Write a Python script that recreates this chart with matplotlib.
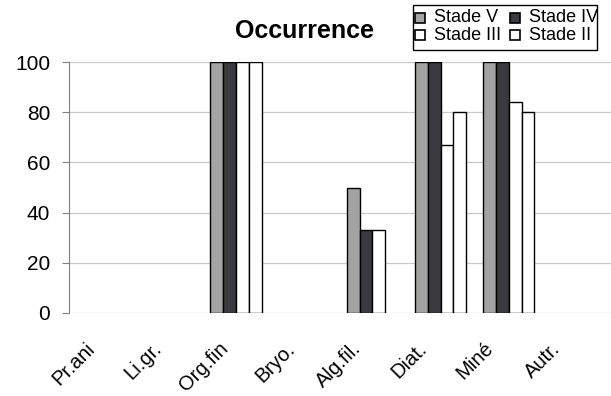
import matplotlib
matplotlib.use("Agg")
import matplotlib.pyplot as plt
from matplotlib.patches import Rectangle
from matplotlib.transforms import ScaledTranslation
import numpy as np

plt.rcParams['font.family'] = ['Liberation Sans', 'DejaVu Sans']

categories = ['Pr.ani', 'Li.gr.', 'Org.fin', 'Bryo.', 'Alg.fil.', 'Diat.', 'Miné', 'Autr.']
series_names = ['Stade V', 'Stade IV', 'Stade III', 'Stade II']
stade_v = [0, 0, 100, 0, 50, 100, 100, 0]
stade_iv = [0, 0, 100, 0, 33, 100, 100, 0]
stade_iii = [0, 0, 100, 0, 33, 67, 84, 0]
stade_ii = [0, 0, 100, 0, 0, 80, 80, 0]
y_ticks = [0, 20, 40, 60, 80, 100]

colors = ['#a3a3a3', '#3a3a40', 'white', 'white']

W, H = 611, 396
fig = plt.figure(figsize=(W / 100, H / 100), dpi=100)
ax = fig.add_axes([69 / W, 1 - 313 / H, (W - 69) / W, (313 - 62) / H])

def px(x, y):
    return x / W, 1 - y / H

x = np.arange(len(categories))
w = 0.1875
for i, (vals, c, name) in enumerate(zip([stade_v, stade_iv, stade_iii, stade_ii], colors, series_names)):
    v = np.array(vals, dtype=float)
    v = np.where(v > 0, v, np.nan)
    ax.bar(x + (i - 1.5) * w, v, width=w, color=c, edgecolor='black', linewidth=1.0, label=name, zorder=3)

ax.set_xlim(-0.45, len(categories) - 0.5)
ax.set_ylim(0, 100)
ax.set_yticks(y_ticks)
ax.tick_params(axis='y', labelsize=15, length=5, color='#808080', pad=8.6)
ax.tick_params(axis='x', length=0, labelsize=14.5, pad=0)
ax.set_xticks(x)
ax.set_xticklabels(categories, rotation=45, ha='right', va='top', rotation_mode='anchor')
for i, lab in enumerate(ax.get_xticklabels()):
    dx = -(14 + 1.8 * i) / 100
    lab.set_transform(lab.get_transform() + ScaledTranslation(dx, -0.26, fig.dpi_scale_trans))
ax.yaxis.grid(True, color='#c8c8c8', linewidth=0.9, zorder=0)
ax.set_axisbelow(True)
for s in ['top', 'right', 'bottom']:
    ax.spines[s].set_visible(False)
ax.spines['left'].set_color('#808080')

fig.text(*px(304, 31), 'Occurrence', ha='center', va='center', fontsize=18, fontweight='bold')

# legend box
x0, y0 = px(413, 50)
x1, y1 = px(597, 5)
box = Rectangle((x0, y0), x1 - x0, y1 - y0, transform=fig.transFigure,
                facecolor='white', edgecolor='black', linewidth=1.0)
fig.patches.append(box)
slots = [(415, 13), (510, 13), (415, 30), (510, 30)]
for (sx, sy), k in zip(slots, range(4)):
    a, b = px(sx, sy + 10)
    fig.patches.append(Rectangle((a, b), 10 / W, 10 / H, transform=fig.transFigure,
                                 facecolor=colors[k], edgecolor='black', linewidth=1.2))
    t = fig.text(*px(sx + 19, sy + 5), series_names[k], ha='left', va='center', fontsize=13)
    t.set_clip_path(box)

fig.savefig('out.png', dpi=100)
